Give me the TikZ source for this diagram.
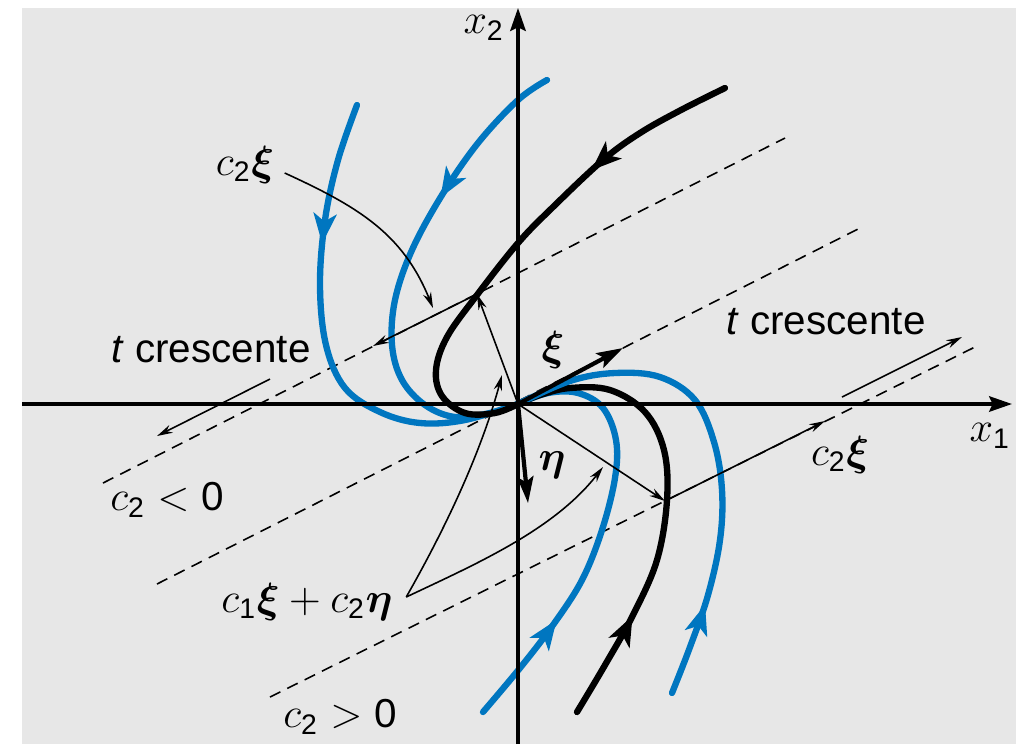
\documentclass[tikz,border=0pt]{standalone}
\usepackage{amsmath,amssymb}
\usepackage{fontspec}
\setmainfont{Liberation Sans}
\usetikzlibrary{arrows.meta,decorations.markings}
\definecolor{trajblue}{RGB}{0,118,192}
\definecolor{panelgray}{RGB}{231,231,231}
\newcommand{\sfdig}[1]{\text{#1}}

\begin{document}
\begin{tikzpicture}[
    x=0.01cm, y=-0.01cm,
    every node/.style={font=\fontsize{11.5}{13}\selectfont, inner sep=0pt},
    axis/.style={line width=0.95pt, -{Stealth[length=6.5pt,width=4.4pt,inset=1pt]}},
    traj/.style={line width=1.8pt, line cap=round},
    bluetraj/.style={traj, color=trajblue},
    blacktraj/.style={traj, color=black},
    flow/.style={decoration={markings, mark=at position #1 with {\arrow{Stealth[length=8.5pt,width=6.5pt,inset=2.2pt]}}}, postaction={decorate}},
    guide/.style={line width=0.45pt, dash pattern=on 3.3pt off 2.2pt},
    vec/.style={line width=0.45pt, -{Stealth[length=4.5pt,width=2.4pt]}},
    eig/.style={line width=1.2pt, -{Stealth[length=7.5pt,width=4.6pt,inset=1.5pt]}}
]

% Panel
\useasboundingbox (0,0) rectangle (1033,744);
\fill[panelgray] (22,8) rectangle (1016,744);

% Key points
\coordinate (O) at (518,404);
\coordinate (P1) at (477,294);
\coordinate (P2) at (665,501);

% Lines c1 xi + c2 eta + c2 t xi
\draw[guide] (103,483) -- (785,138);
\draw[guide] (157,584) -- (858,229);
\draw[guide] (270,697) -- (979,345);

% Trajectories, left
\draw[bluetraj, flow=0.3] plot[smooth, tension=0.6] coordinates {(357,105) (338,160) (325,220) (320,285) (326,345) (345,388) (380,412) (420,423) (465,420) (518,404)};
\draw[bluetraj, flow=0.33] plot[smooth, tension=0.6] coordinates {(547,80) (518,100) (478,143) (442,195) (412,250) (395,300) (392,345) (402,380) (425,405) (455,417) (490,413) (518,404)};
\draw[blacktraj, flow=0.3] plot[smooth, tension=0.6] coordinates {(725,88) (681,110) (640,133) (603,160) (553,207) (518,243) (477,295) (447,337) (436,370) (442,396) (465,413) (495,413) (518,404)};

% Trajectories, right
\draw[bluetraj, flow=0.27] plot[smooth, tension=0.6] coordinates {(483,712) (520,668) (553,625) (582,580) (602,530) (615,478) (616,440) (603,408) (578,393) (548,393) (518,404)};
\draw[blacktraj, flow=0.24] plot[smooth, tension=0.6] coordinates {(577,712) (605,665) (633,615) (657,560) (667,500) (664,450) (645,412) (610,390) (570,388) (540,395) (518,404)};
\draw[bluetraj, flow=0.19] plot[smooth, tension=0.6] coordinates {(672,693) (690,647) (708,595) (720,540) (722,490) (714,442) (695,400) (660,377) (615,373) (570,381) (518,404)};

% Axes
\draw[axis] (22,404) -- (1012,404);
\draw[axis] (518,744) -- (518,8);
\node (x1lab) at (990,436) {$x_{\sfdig{1}}$};
\node (x2lab) at (484,28) {$x_{\sfdig{2}}$};

% Eigenvectors
\draw[eig] (O) -- (623,348);
\draw[eig] (O) -- (528,503);
\node (xilab) at (553,350) {$\boldsymbol{\xi}$};
\node (etalab) at (552,465) {$\boldsymbol{\eta}$};

% c1 xi + c2 eta and c2 xi
\draw[vec] (O) -- (P1);
\draw[vec] (O) -- (P2);
\draw[vec] (P1) -- (373,346);
\draw[vec] (P2) -- (825,421);

% t crescente
\draw[vec] (270,379) -- (157,436);
\draw[vec] (842,397) -- (962,337);
\node (tincL) at (211,350) {\textit{t} crescente};
\node (tincR) at (826,322) {\textit{t} crescente};

% Labels
\node (c2xiL) at (245,165) {$c_{\sfdig{2}}\boldsymbol{\xi}$};
\node (c2xiR) at (840,455) {$c_{\sfdig{2}}\boldsymbol{\xi}$};
\node (cneg) at (167,500) {$c_{\sfdig{2}} < \sfdig{0}$};
\node (cpos) at (340,717) {$c_{\sfdig{2}} > \sfdig{0}$};
\node (comb) at (307,602) {$c_{\sfdig{1}}\boldsymbol{\xi} + c_{\sfdig{2}}\boldsymbol{\eta}$};

\draw[vec] ([shift={(10,8)}]c2xiL.east) .. controls (359,207) and (403,234) .. (433,308);
\draw[vec] ([shift={(13,-5)}]comb.east) .. controls (445,529) and (481,453) .. (502,375);
\draw[vec] ([shift={(13,-5)}]comb.east) .. controls (476,564) and (554,530) .. (603,467);

\end{tikzpicture}
\end{document}
